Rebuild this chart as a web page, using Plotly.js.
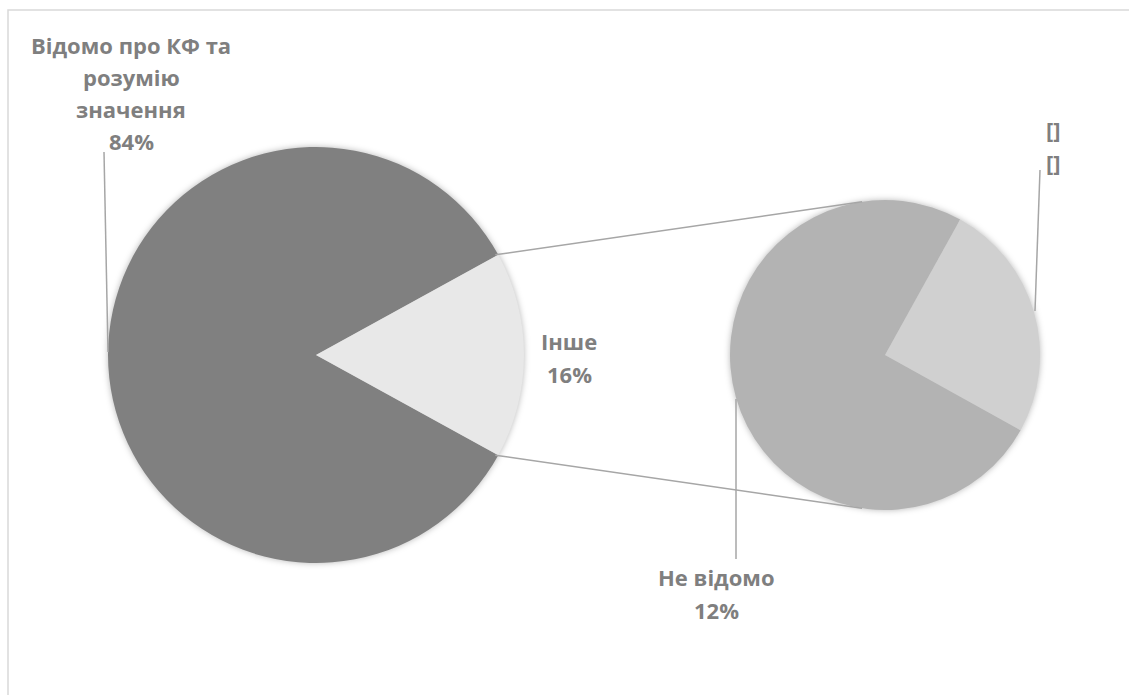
<!DOCTYPE html>
<html>
<head>
<meta charset="utf-8">
<script src="https://cdn.plot.ly/plotly-3.0.1.min.js"></script>
<style>
  html, body { margin: 0; padding: 0; background: #ffffff; }
  #chart { width: 1129px; height: 695px; }
  .pielayer .trace { filter: drop-shadow(0px 0px 3px rgba(0,0,0,0.28)); }
</style>
</head>
<body>
<div id="chart"></div>
<script>
// ---- Data ----
const mainLabels = ['Відомо про КФ та розумію значення', 'Інше'];
const mainValues = [84, 16];
const mainColors = ['#808080', '#e8e8e8'];

const secondLabels = ['Не відомо', '[]'];
const secondValues = [12, 4];
const secondColors = ['#b3b3b3', '#d0d0d0'];

// label line breaks as shown on the chart
const mainLabelLines = [['Відомо про КФ та', 'розумію', 'значення'], ['Інше']];
const secondLabelLines = [['Не відомо'], ['[]']];
const secondPctText = [null, '[]'];   // the small slice shows a broken reference instead of a percent

// ---- Geometry (pixels) ----
const W = 1129, H = 695;
const px = x => x / W;
const py = y => 1 - y / H;

const c1 = {x: 316, y: 355, r: 208};
const c2 = {x: 885, y: 355, r: 155};

const mainTotal = mainValues.reduce((a, b) => a + b, 0);
const otherFrac = mainValues[1] / mainTotal;
const halfAngle = otherFrac * 180;             // degrees
const mainRotation = 90 + halfAngle;           // "Інше" centred on 3 o'clock

const secondRotation = 119;

function domainFor(c) {
  return {x: [px(c.x - c.r), px(c.x + c.r)], y: [py(c.y + c.r), py(c.y - c.r)]};
}

const traces = [
  {
    type: 'pie', labels: mainLabels, values: mainValues, sort: false,
    direction: 'clockwise', rotation: mainRotation,
    marker: {colors: mainColors, line: {width: 0}},
    textinfo: 'none', hoverinfo: 'label+percent', showlegend: false,
    domain: domainFor(c1)
  },
  {
    type: 'pie', labels: secondLabels, values: secondValues, sort: false,
    direction: 'clockwise', rotation: secondRotation,
    marker: {colors: secondColors, line: {width: 0}},
    textinfo: 'none', hoverinfo: 'label+value', showlegend: false,
    domain: domainFor(c2)
  }
];

// connector lines between the pies
const a = halfAngle * Math.PI / 180;
const pTop = {x: c1.x + c1.r * Math.cos(a) - 3, y: c1.y - c1.r * Math.sin(a)};
const pBot = {x: c1.x + c1.r * Math.cos(a) - 3, y: c1.y + c1.r * Math.sin(a)};
const b = 98.5 * Math.PI / 180;
const qTop = {x: c2.x + c2.r * Math.cos(b), y: c2.y - c2.r * Math.sin(b)};
const qBot = {x: c2.x + c2.r * Math.cos(b), y: c2.y + c2.r * Math.sin(b)};

const lineCol = '#a6a6a6';
function seg(x0, y0, x1, y1, col, w) {
  return {type: 'line', xref: 'paper', yref: 'paper',
          x0: px(x0), y0: py(y0), x1: px(x1), y1: py(y1),
          line: {color: col || lineCol, width: w || 1.5}};
}

const shapes = [
  // chart frame
  {type: 'rect', xref: 'paper', yref: 'paper', x0: px(8), x1: px(1140), y0: py(720), y1: py(10),
   line: {color: '#d9d9d9', width: 1.5}, fillcolor: 'rgba(0,0,0,0)', layer: 'below'},
  seg(pTop.x, pTop.y, qTop.x, qTop.y),
  seg(pBot.x, pBot.y, qBot.x, qBot.y),
  // leader lines
  seg(104, 152, 108, 352),
  seg(1040, 170, 1035, 311),
  seg(736, 399, 736, 559)
];

// ---- Labels ----
const txtFont = {family: '"Open Sans", sans-serif', size: 22, color: '#7f7f7f', weight: 700};
const annotations = [];
function addBlock(lines, cx, yFirst, step) {
  lines.forEach((t, i) => {
    annotations.push({
      xref: 'paper', yref: 'paper', x: px(cx), y: py(yFirst + i * step),
      xanchor: 'center', yanchor: 'middle', showarrow: false,
      text: '<b>' + t + '</b>', font: txtFont
    });
  });
}
const pct = (v, tot) => Math.round(v / tot * 100) + '%';

addBlock(mainLabelLines[0].concat([pct(mainValues[0], mainTotal)]), 131, 45, 32);
addBlock(mainLabelLines[1].concat([pct(mainValues[1], mainTotal)]), 569, 341, 33);
addBlock(secondLabelLines[0].concat([pct(secondValues[0], mainTotal)]), 716, 577, 33);
addBlock(secondLabelLines[1].concat([secondPctText[1]]), 1053, 129, 33);

const layout = {
  width: W, height: H,
  margin: {l: 0, r: 0, t: 0, b: 0},
  paper_bgcolor: '#ffffff',
  showlegend: false,
  shapes: shapes,
  annotations: annotations
};

Plotly.newPlot('chart', traces, layout, {displayModeBar: false, staticPlot: true});
</script>
</body>
</html>
